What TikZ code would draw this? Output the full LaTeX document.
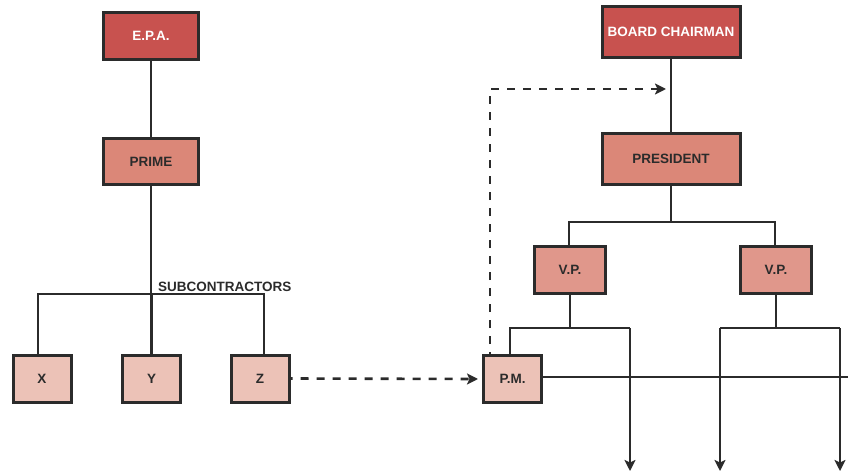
\documentclass[tikz,border=0pt]{standalone}
\usepackage{fontspec}
\setmainfont{Liberation Sans}
\usetikzlibrary{arrows.meta}
\definecolor{linegray}{HTML}{2B2B2B}
\definecolor{headred}{HTML}{C8524F}
\definecolor{midred}{HTML}{DB8778}
\definecolor{vpred}{HTML}{E0978B}
\definecolor{lowred}{HTML}{ECC2B7}
\tikzset{
  unit/.style={rectangle,draw=linegray,line width=3pt,inner sep=0pt,text=linegray,
               font=\bfseries\fontsize{13.5}{16}\selectfont},
  headbox/.style={unit,fill=headred,text=white,minimum width=95pt,minimum height=47pt},
  midbox/.style={unit,fill=midred},
  vpbox/.style={unit,fill=vpred,minimum width=71pt,minimum height=47pt},
  subbox/.style={unit,fill=lowred,minimum width=58pt,minimum height=47pt},
  link/.style={draw=linegray,line width=2.6pt},
  flow/.style={link,-{Stealth[length=11pt,width=11pt,inset=2.5pt]}},
  dashflow/.style={flow,dash pattern=on 8pt off 8pt,dash phase=6pt},
  tag/.style={font=\bfseries\fontsize{13.5}{16}\selectfont,text=linegray,inner sep=0pt},
}
\begin{document}
\begin{tikzpicture}[x=1pt,y=-1pt]
  \useasboundingbox (0,0) rectangle (848,473);
  \node[headbox] (epa) at (151,36) {E.P.A.};
  \node[midbox,minimum width=95pt,minimum height=46pt] (prime) at (151,161.5) {PRIME};
  \node[subbox] (x) at (42,378.5) {X};
  \node[subbox] (y) at (151.5,378.5) {Y};
  \node[subbox] (z) at (260,378.5) {Z};
  \node[tag,anchor=base west] (sub) at (158,291.5) {SUBCONTRACTORS};
  \node[headbox,minimum width=138pt,minimum height=51pt] (board) at (671,32) {BOARD CHAIRMAN};
  \node[midbox,minimum width=138pt,minimum height=51pt] (pres) at (671,159) {PRESIDENT};
  \node[vpbox] (vpa) at (570,270) {V.P.};
  \node[vpbox] (vpb) at (776,270) {V.P.};
  \node[subbox] (pm) at (512.5,379) {P.M.};
  \coordinate (sl) at (38,294);
  \coordinate (sr) at (264,294);
  \coordinate (pl) at (569,222);
  \coordinate (pr) at (775,222);
  \coordinate (al) at (510,328);
  \coordinate (ar) at (630,328);
  \coordinate (bl) at (720,328);
  \coordinate (br) at (840,328);
  \coordinate (hook) at (669,89);
  \coordinate (edge) at (849,377);
  \coordinate (enda) at (630,471);
  \coordinate (endb) at (720,471);
  \coordinate (endc) at (840,471);
  \draw[link] (epa) -- (prime);
  \draw[link] (prime.south) -- (prime.south |- sl);
  \draw[link] (x.north -| sl) -- (sl) -- (sr) -- (z.north -| sr);
  \draw[link] (y.north) -- (y.north |- sl);
  \draw[dashflow] (z.east) -- ([xshift=-4pt]pm.west);
  \draw[link] (board) -- (pres);
  \draw[link] (pres.south) -- (pres.south |- pl);
  \draw[link] (vpa.north -| pl) -- (pl) -- (pr) -- (vpb.north -| pr);
  \draw[link] (vpa.south) -- (vpa.south |- al);
  \draw[link] (pm.north -| al) -- (al) -- (ar);
  \draw[flow] (ar) -- (enda);
  \draw[link] (vpb.south) -- (vpb.south |- bl);
  \draw[link] (bl) -- (br);
  \draw[flow] (bl) -- (endb);
  \draw[flow] (br) -- (endc);
  \draw[link] (pm.east |- edge) -- (edge);
  \draw[dashflow] ([xshift=8pt]pm.north west) |- ([xshift=-3pt]hook);
\end{tikzpicture}
\end{document}
